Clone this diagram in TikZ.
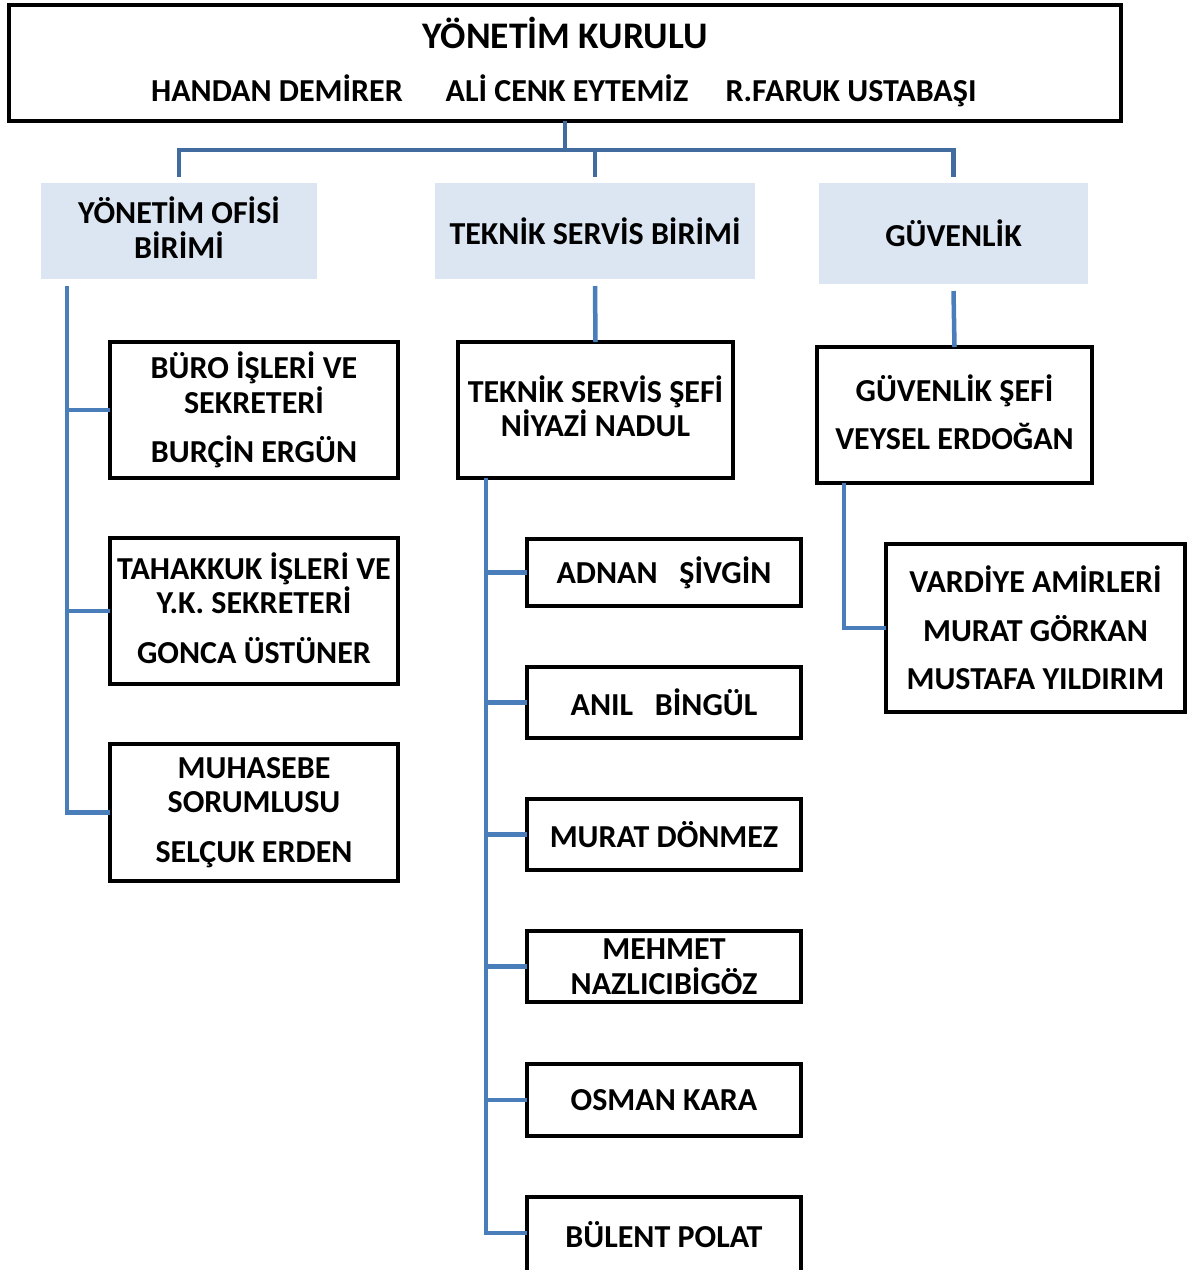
\documentclass[tikz,border=0pt]{standalone}
\usepackage{fontspec}
\setmainfont{Carlito}
\definecolor{lineblue}{RGB}{74,126,187}
\definecolor{topblue}{RGB}{66,108,160}
\definecolor{boxfill}{RGB}{220,230,242}
\begin{document}
\begin{tikzpicture}[x=1pt,y=-1pt,
  txt/.style={font=\fontsize{32}{34.5}\selectfont\bfseries, align=center},
  box/.style={txt, draw=black, line width=4pt, fill=white, inner sep=0pt, outer sep=0pt},
  unit/.style={txt, fill=boxfill, inner sep=0pt, outer sep=0pt},
  conn/.style={draw=lineblue, line width=4.5pt},
  topconn/.style={draw=topblue, line width=4.5pt}]
\useasboundingbox (0,0) rectangle (1192,1270);
\clip (0,0) rectangle (1192,1270);
% top box
\node[box, minimum width=1112pt, minimum height=116pt] (top) at (565,63) {};
\node[txt, font=\fontsize{37.5}{40}\selectfont\bfseries, anchor=base] (title) at (565,48) {YÖNETİM KURULU};
\node[txt, anchor=base] (n1) at (277,101.5) {HANDAN DEMİRER};
\node[txt, anchor=base] (n2) at (567,101.5) {ALİ CENK EYTEMİZ};
\node[txt, anchor=base] (n3) at (851,101.5) {R.FARUK USTABAŞI};
% unit boxes
\node[unit, minimum width=276pt, minimum height=96pt] (yo) at (179,231) {YÖNETİM OFİSİ\\BİRİMİ\\[-28pt]\mbox{}};
\node[unit, minimum width=320pt, minimum height=96pt] (tsb) at (595,231) {TEKNİK SERVİS BİRİMİ};
\node[unit, minimum width=269pt, minimum height=101pt] (gv) at (953.5,233.5) {GÜVENLİK};
% left boxes
\node[box, minimum width=288pt, minimum height=136pt] (b1) at (254,410) {BÜRO İŞLERİ VE\\SEKRETERİ\\[15pt]BURÇİN ERGÜN};
\node[box, minimum width=288pt, minimum height=146pt] (b2) at (254,611) {TAHAKKUK İŞLERİ VE\\Y.K. SEKRETERİ\\[15pt]GONCA ÜSTÜNER\\[-28pt]\mbox{}};
\node[box, minimum width=288pt, minimum height=137pt] (b3) at (254,812.5) {MUHASEBE\\SORUMLUSU\\[15pt]SELÇUK ERDEN};
% middle boxes
\node[box, minimum width=275pt, minimum height=136pt] (ts) at (595.5,410) {TEKNİK SERVİS ŞEFİ\\NİYAZİ NADUL\\[-26.5pt]\mbox{}};
\node[box, minimum width=274pt, minimum height=67pt] (m1) at (664,572.5) {ADNAN\ \ \ ŞİVGİN};
\node[box, minimum width=274pt, minimum height=71pt] (m2) at (664,702.5) {ANIL\ \ \ BİNGÜL};
\node[box, minimum width=274pt, minimum height=71pt] (m3) at (664,834.5) {MURAT DÖNMEZ};
\node[box, minimum width=274pt, minimum height=71pt] (m4) at (664,966.5) {MEHMET\\NAZLICIBİGÖZ};
\node[box, minimum width=274pt, minimum height=72pt] (m5) at (664,1100) {OSMAN KARA};
\node[box, minimum width=274pt, minimum height=76pt] (m6) at (664,1235) {BÜLENT POLAT};
% right boxes
\node[box, minimum width=275pt, minimum height=136pt] (gs) at (954.5,415) {GÜVENLİK ŞEFİ\\[13pt]VEYSEL ERDOĞAN\\[-28.5pt]\mbox{}};
\node[box, minimum width=299pt, minimum height=168pt] (va) at (1035.5,628) {VARDİYE AMİRLERİ\\[14pt]MURAT GÖRKAN\\[14pt]MUSTAFA YILDIRIM};
% top connectors
\coordinate (j) at (565,150);
\draw[topconn] (top.south) -- (j);
\draw[topconn] ([yshift=6pt]yo.north) -- (yo.north |- j) -- (gv.north |- j) -- ([yshift=6pt]gv.north);
\draw[topconn] (tsb.north |- j) -- ([yshift=6pt]tsb.north);
% left tree
\coordinate (lt) at (67,286);
\draw[conn] (lt) |- (b3.west);
\draw[conn] (lt |- b1.west) -- (b1.west);
\draw[conn] (lt |- b2.west) -- (b2.west);
% middle tree
\draw[conn] ([yshift=-7pt]tsb.south) -- (ts.north);
\coordinate (mt) at (486,0);
\coordinate (m6in) at (m6.west);
\draw[conn] (ts.south -| mt) |- ([yshift=2pt]m6in);
\draw[conn] (mt |- m1.west) -- (m1.west);
\draw[conn] (mt |- m2.west) -- (m2.west);
\draw[conn] (mt |- m3.west) -- (m3.west);
\draw[conn] (mt |- m4.west) -- (m4.west);
\draw[conn] (mt |- m5.west) -- (m5.west);
% right tree
\draw[conn] ([yshift=-7pt]gv.south) -- (gs.north);
\coordinate (rt) at (844,0);
\draw[conn] (gs.south -| rt) |- (va.west);
\end{tikzpicture}
\end{document}
